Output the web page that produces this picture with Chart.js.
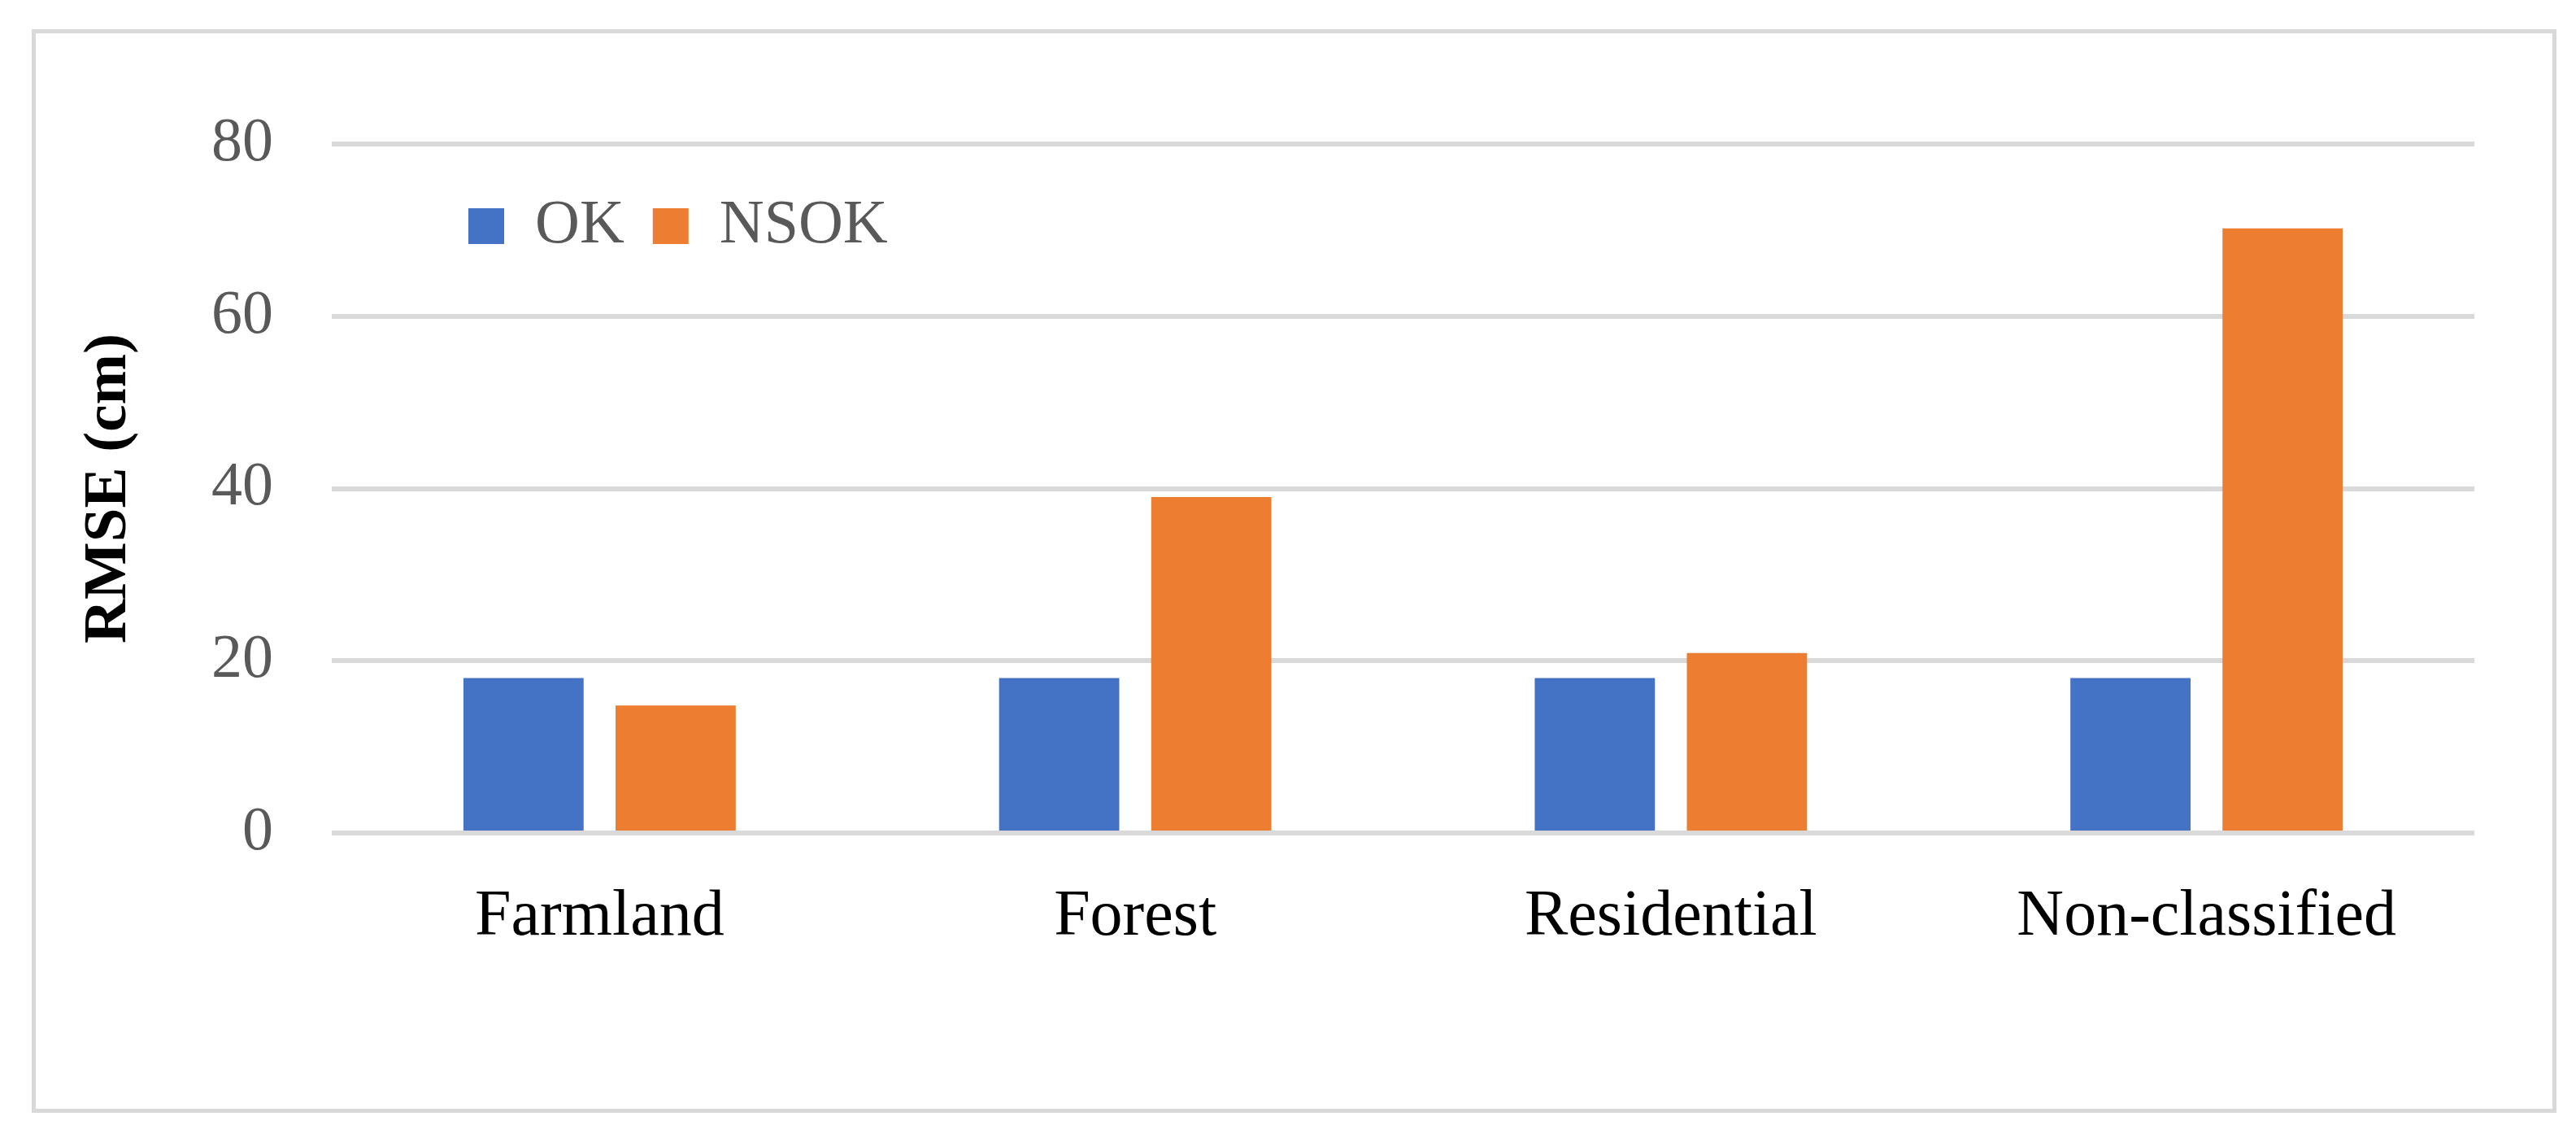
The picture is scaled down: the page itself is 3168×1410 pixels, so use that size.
<!DOCTYPE html>
<html>
<head>
<meta charset="utf-8">
<script src="https://cdn.jsdelivr.net/npm/chart.js@4.4.1/dist/chart.umd.min.js"></script>
<style>
    html, body { margin: 0; padding: 0; background: #ffffff; }
    #frame {
        position: absolute; left: 39px; top: 36px; width: 3105px; height: 1332px;
        border: 5px solid #d9d9d9; box-sizing: border-box;
    }
    #myChart { position: absolute; left: 0; top: 0; }
</style>
</head>
<body>
<div id="frame"></div>
<canvas id="myChart" width="3168" height="1410"></canvas>
<script>
const categories = ['Farmland', 'Forest', 'Residential', 'Non-classified'];
const okValues = [18, 18, 18, 18];
const nsokValues = [14.8, 39, 20.9, 70.2];
const yTickValues = [0, 20, 40, 60, 80];

const serif = "'Liberation Serif', 'Times New Roman', serif";

// mueve la leyenda dentro del area del grafico (arriba a la izquierda)
const legendInside = {
    id: 'legendInside',
    afterLayout(chart) {
        const lg = chart.legend;
        const area = chart.chartArea;
        lg.left = area.left + 133;
        lg.top = area.top + 28;
        lg.bottom = lg.top + lg.height;
    }
};

const ctx = document.getElementById('myChart').getContext('2d');

const myChart = new Chart(ctx, {
    type: 'bar',
    data: {
        labels: categories,
        datasets: [{
            label: 'OK',
            data: okValues,
            backgroundColor: '#4472C4',
            borderWidth: 0
        }, {
            label: 'NSOK',
            data: nsokValues,
            backgroundColor: '#ED7D31',
            borderWidth: 0
        }]
    },
    options: {
        responsive: false,
        animation: false,
        devicePixelRatio: 1,
        categoryPercentage: 0.568,
        barPercentage: 0.79,
        layout: {
            padding: { left: 40, right: 125, top: 56, bottom: 242 }
        },
        plugins: {
            legend: {
                position: 'top',
                align: 'start',
                labels: {
                    boxWidth: 44,
                    boxHeight: 44,
                    padding: 35,
                    color: '#595959',
                    font: { family: serif, size: 76 }
                }
            },
            tooltip: { enabled: false }
        },
        scales: {
            x: {
                grid: { display: false },
                border: { display: false },
                ticks: {
                    color: '#000000',
                    padding: 48,
                    font: { family: serif, size: 80 }
                },
                afterFit: (scale) => { scale.height = 144; }
            },
            y: {
                min: 0,
                max: 80,
                afterBuildTicks: (scale) => {
                    scale.ticks = yTickValues.map(v => ({ value: v }));
                },
                afterFit: (scale) => { scale.width = 368; },
                grid: {
                    color: '#d9d9d9',
                    lineWidth: 6,
                    drawTicks: false
                },
                border: { display: false },
                ticks: {
                    color: '#595959',
                    padding: 72,
                    font: { family: serif, size: 76 }
                },
                title: {
                    display: true,
                    text: 'RMSE (cm)',
                    color: '#000000',
                    padding: { top: 50, bottom: 0 },
                    font: { family: serif, size: 75, weight: 'bold' }
                }
            }
        }
    },
    plugins: [legendInside]
});
</script>
</body>
</html>
